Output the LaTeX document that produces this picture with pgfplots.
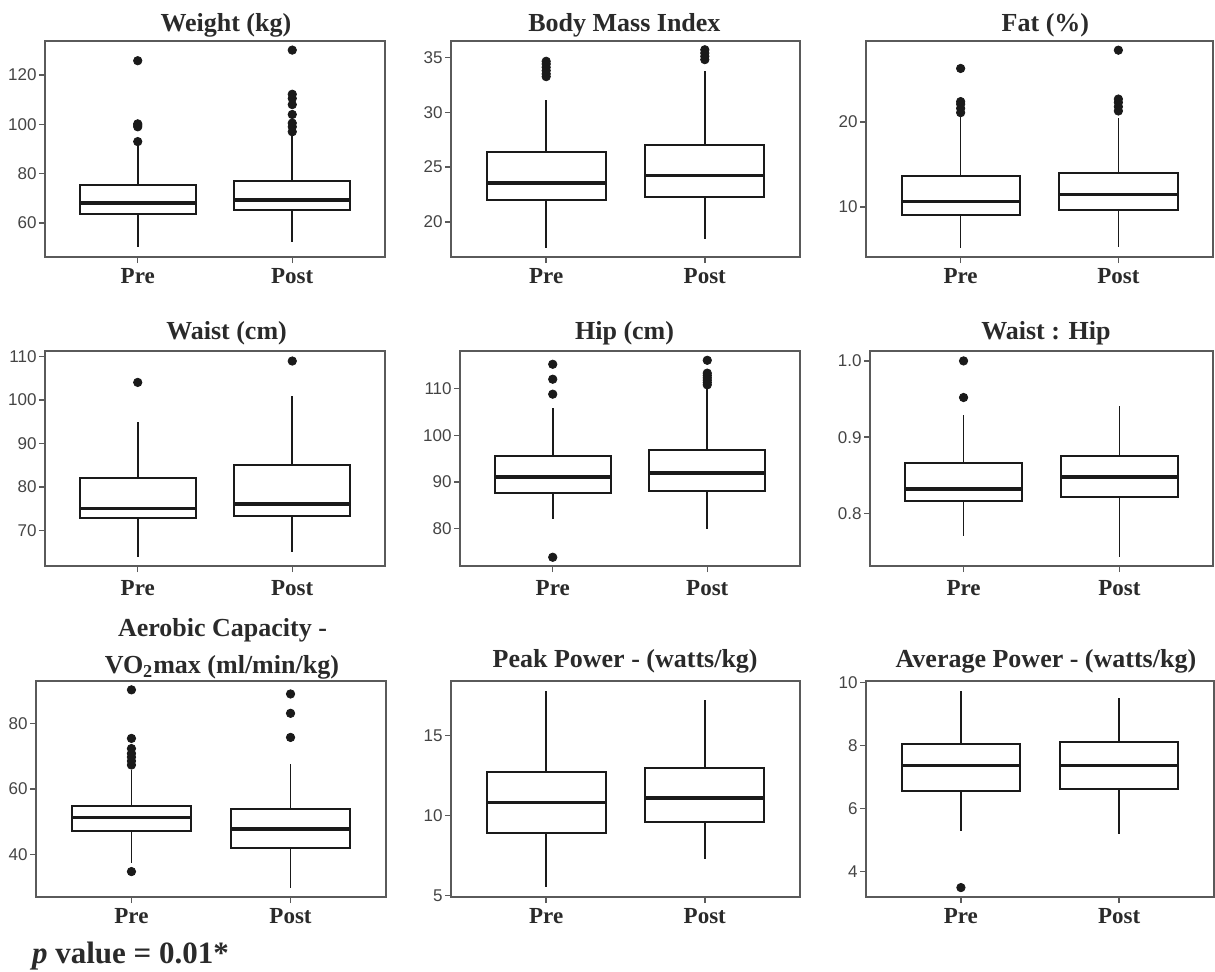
\documentclass[border=0pt]{standalone}
\usepackage{fontspec}
\setmainfont{Liberation Serif}
\newfontfamily\tickfont{Liberation Sans}
\usepackage{pgfplots}
\pgfplotsset{compat=1.18}
\usepgfplotslibrary{statistics}
\definecolor{framegray}{HTML}{5A5A5A}
\definecolor{tickgray}{HTML}{444444}
\definecolor{labgray}{HTML}{2A2A2A}
\definecolor{ptcol}{HTML}{1A1A1A}
\pgfplotsset{
  bp/.style={
    scale only axis,
    xmin=0.4, xmax=2.6,
    xtick={1,2}, xticklabels={Pre,Post},
    axis line style={draw=framegray, line width=0.7pt},
    tick style={draw=framegray, line width=0.7pt},
    tick align=outside, major tick length=3pt,
    xtick pos=bottom, ytick pos=left,
    /pgf/number format/assume math mode=true,
    yticklabel style={font=\tickfont\fontsize{8.5}{10}\selectfont, text=tickgray, anchor=east, inner sep=0pt, xshift=-1pt},
    xticklabel style={font=\fontsize{11.5}{13}\selectfont\bfseries, text=labgray, anchor=base},
    boxplot/draw direction=y,
    boxplot/box extend=0.75,
    boxplot/whisker extend=0,
    boxplot/every box/.style={draw=ptcol, line width=1pt, fill=white},
    boxplot/every whisker/.style={draw=ptcol, line width=0.8pt},
    boxplot/every median/.style={draw=ptcol, line width=1.8pt},
  },
  ttl/.style n args={3}{
    title={#1},
    every axis title/.style={at={(#2,1)}, anchor=base, yshift=#3,
      font=\fontsize{13}{15}\selectfont\bfseries, text=labgray, inner sep=0pt},
  },
  bx/.style={ptcol, solid, mark=*, mark size=2.1pt, mark options={fill=ptcol, draw=ptcol}},
}
\begin{document}
\begin{tikzpicture}
\useasboundingbox (0,0) rectangle (607.5pt,485.5pt);
% ---------- Row 1 ----------
\begin{axis}[bp, at={(22.5pt,357pt)}, anchor=south west, width=170pt, height=108pt,
  ymin=46.2, ymax=133.8, ytick={60,80,100,120},
  xticklabel style={yshift=-10.15pt}, ttl={Weight (kg)}{0.532}{4.5pt}]
\addplot[bx, boxplot prepared={draw position=1, lower whisker=50.2, lower quartile=63.5, median=68.2, upper quartile=75.4, upper whisker=91.5}]
  table[row sep=\\, y index=0]{y\\ 93\\ 99\\ 99.7\\ 100.2\\ 125.8\\};
\addplot[bx, boxplot prepared={draw position=2, lower whisker=52.4, lower quartile=65.3, median=69.3, upper quartile=77, upper whisker=96}]
  table[row sep=\\, y index=0]{y\\ 97\\ 99\\ 100.5\\ 104\\ 108\\ 110.5\\ 112.2\\ 130.1\\};
\end{axis}
\begin{axis}[bp, at={(225.5pt,357pt)}, anchor=south west, width=174.5pt, height=108pt,
  ymin=16.8, ymax=36.5, ytick={20,25,30,35},
  xticklabel style={yshift=-10.15pt}, ttl={Body Mass Index}{0.497}{4.5pt}]
\addplot[bx, boxplot prepared={draw position=1, lower whisker=17.65, lower quartile=21.97, median=23.55, upper quartile=26.38, upper whisker=31.16}]
  table[row sep=\\, y index=0]{y\\ 33.25\\ 33.5\\ 33.8\\ 34.1\\ 34.4\\ 34.65\\};
\addplot[bx, boxplot prepared={draw position=2, lower whisker=18.4, lower quartile=22.27, median=24.25, upper quartile=27.0, upper whisker=33.78}]
  table[row sep=\\, y index=0]{y\\ 34.8\\ 35.1\\ 35.4\\ 35.7\\};
\end{axis}
\begin{axis}[bp, at={(433pt,357pt)}, anchor=south west, width=173.5pt, height=108pt,
  ymin=4.12, ymax=29.53, ytick={10,20},
  xticklabel style={yshift=-10.15pt}, ttl={Fat (\%)}{0.517}{4.5pt}]
\addplot[bx, boxplot prepared={draw position=1, lower whisker=5.22, lower quartile=9.1, median=10.67, upper quartile=13.65, upper whisker=20.6}]
  table[row sep=\\, y index=0]{y\\ 21.1\\ 21.6\\ 22.1\\ 22.4\\ 26.3\\};
\addplot[bx, boxplot prepared={draw position=2, lower whisker=5.3, lower quartile=9.7, median=11.46, upper quartile=14.0, upper whisker=20.5}]
  table[row sep=\\, y index=0]{y\\ 21.3\\ 21.8\\ 22.3\\ 22.7\\ 28.45\\};
\end{axis}
% ---------- Row 2 ----------
\begin{axis}[bp, at={(22.5pt,202.5pt)}, anchor=south west, width=170pt, height=107.5pt,
  ymin=61.9, ymax=111.2, ytick={70,80,90,100,110},
  xticklabel style={yshift=-11.5pt}, ttl={Waist (cm)}{0.534}{5.67pt}]
\addplot[bx, boxplot prepared={draw position=1, lower whisker=64.0, lower quartile=72.8, median=75.1, upper quartile=82.0, upper whisker=95.0}]
  table[row sep=\\, y index=0]{y\\ 104\\};
\addplot[bx, boxplot prepared={draw position=2, lower whisker=65.0, lower quartile=73.4, median=76.1, upper quartile=85.0, upper whisker=100.9}]
  table[row sep=\\, y index=0]{y\\ 108.9\\};
\end{axis}
\begin{axis}[bp, at={(230pt,202.5pt)}, anchor=south west, width=170pt, height=107.5pt,
  ymin=72.03, ymax=118.04, ytick={80,90,100,110},
  xticklabel style={yshift=-11.5pt}, ttl={Hip (cm)}{0.484}{5.67pt}]
\addplot[bx, boxplot prepared={draw position=1, lower whisker=82.1, lower quartile=87.55, median=91.1, upper quartile=95.5, upper whisker=105.9}]
  table[row sep=\\, y index=0]{y\\ 73.9\\ 108.8\\ 112\\ 115.2\\};
\addplot[bx, boxplot prepared={draw position=2, lower whisker=80.0, lower quartile=88.05, median=91.96, upper quartile=96.8, upper whisker=110.2}]
  table[row sep=\\, y index=0]{y\\ 110.8\\ 111.3\\ 111.8\\ 112.3\\ 112.8\\ 113.3\\ 116.05\\};
\end{axis}
\begin{axis}[bp, at={(435pt,202.5pt)}, anchor=south west, width=171.5pt, height=107.5pt,
  ymin=0.731, ymax=1.013, ytick={0.8,0.9,1.0}, yticklabels={0.8,0.9,1.0},
  xticklabel style={yshift=-11.5pt}, ttl={Waist : Hip}{0.513}{5.67pt}]
\addplot[bx, boxplot prepared={draw position=1, lower whisker=0.770, lower quartile=0.8162, median=0.832, upper quartile=0.8656, upper whisker=0.929}]
  table[row sep=\\, y index=0]{y\\ 0.952\\ 1.0\\};
\addplot[bx, boxplot prepared={draw position=2, lower whisker=0.743, lower quartile=0.822, median=0.848, upper quartile=0.875, upper whisker=0.9406}]
  table[row sep=\\, y index=0]{y\\};
\end{axis}
% ---------- Row 3 ----------
\begin{axis}[bp, at={(18pt,37pt)}, anchor=south west, width=175pt, height=108pt,
  ymin=27.05, ymax=92.9, ytick={40,60,80},
  xticklabel style={yshift=-10.3pt}, ttl={VO\textsubscript{2}max (ml/min/kg)}{0.531}{3.85pt},
  extra description/.code={\node[anchor=base, font=\fontsize{13}{15}\selectfont\bfseries, text=labgray, inner sep=0pt] at (axis description cs:0.533,1) [yshift=22.15pt] {Aerobic Capacity -};}]
\addplot[bx, boxplot prepared={draw position=1, lower whisker=37.5, lower quartile=47.2, median=51.3, upper quartile=54.8, upper whisker=65.7}]
  table[row sep=\\, y index=0]{y\\ 34.8\\ 67.3\\ 68.5\\ 69.7\\ 70.8\\ 72.3\\ 75.4\\ 90.2\\};
\addplot[bx, boxplot prepared={draw position=2, lower whisker=29.9, lower quartile=42.0, median=47.7, upper quartile=54.0, upper whisker=67.6}]
  table[row sep=\\, y index=0]{y\\ 75.7\\ 83.05\\ 88.95\\};
\end{axis}
\begin{axis}[bp, at={(225.5pt,37pt)}, anchor=south west, width=174.5pt, height=108pt,
  ymin=4.9, ymax=18.39, ytick={5,10,15},
  xticklabel style={yshift=-10.3pt}, ttl={Peak Power - (watts/kg)}{0.499}{6.8pt}]
\addplot[bx, boxplot prepared={draw position=1, lower whisker=5.5, lower quartile=8.87, median=10.81, upper quartile=12.73, upper whisker=17.77}]
  table[row sep=\\, y index=0]{y\\};
\addplot[bx, boxplot prepared={draw position=2, lower whisker=7.25, lower quartile=9.58, median=11.1, upper quartile=12.98, upper whisker=17.2}]
  table[row sep=\\, y index=0]{y\\};
\end{axis}
\begin{axis}[bp, at={(433pt,37pt)}, anchor=south west, width=174pt, height=108pt,
  ymin=3.18, ymax=10.05, ytick={4,6,8,10},
  xticklabel style={yshift=-10.3pt}, ttl={Average Power - (watts/kg)}{0.517}{6.8pt}]
\addplot[bx, boxplot prepared={draw position=1, lower whisker=5.28, lower quartile=6.55, median=7.36, upper quartile=8.04, upper whisker=9.74}]
  table[row sep=\\, y index=0]{y\\ 3.48\\};
\addplot[bx, boxplot prepared={draw position=2, lower whisker=5.17, lower quartile=6.6, median=7.36, upper quartile=8.1, upper whisker=9.5}]
  table[row sep=\\, y index=0]{y\\};
\end{axis}
\node[anchor=base west, inner sep=0pt, text=labgray, font=\fontsize{15.5}{17}\selectfont\bfseries] at (15.85pt,3.85pt) {\textit{p} value = 0.01*};
\end{tikzpicture}
\end{document}
